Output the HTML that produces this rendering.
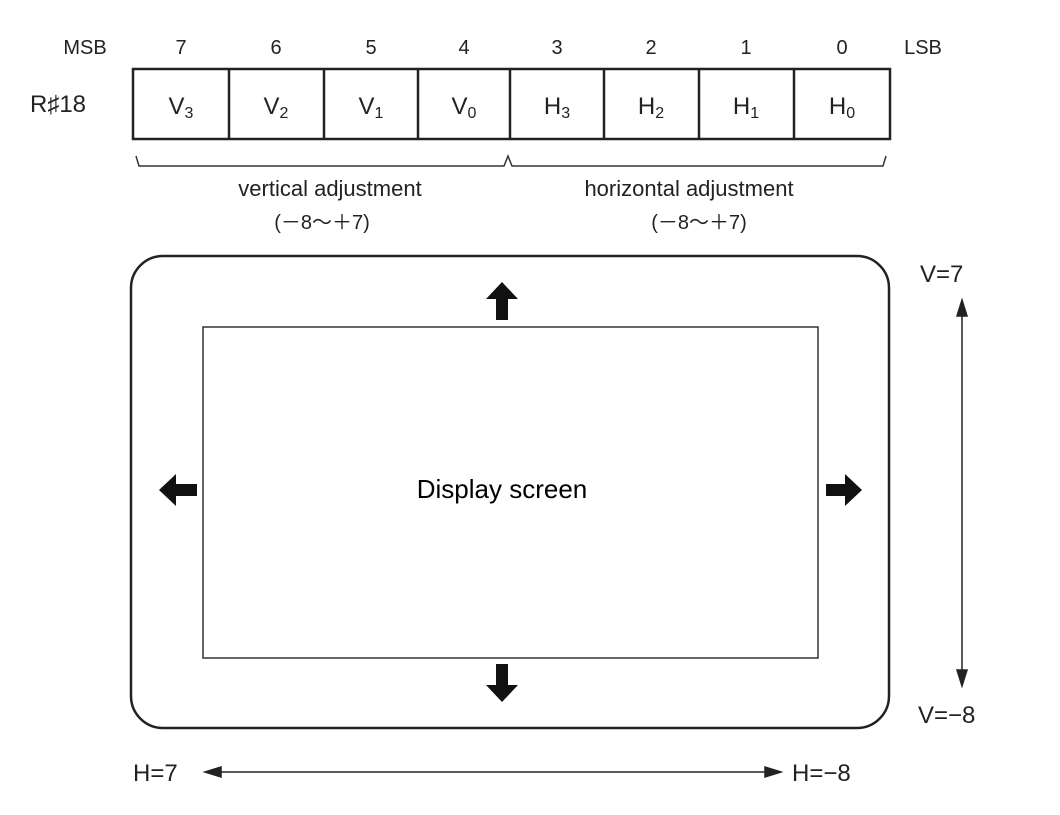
<!DOCTYPE html>
<html><head><meta charset="utf-8"><style>
html,body{margin:0;padding:0;background:#fff;}
svg{display:block;}
text{font-family:"Liberation Sans",sans-serif;fill:#222;}
</style></head><body>
<svg width="1060" height="815" viewBox="0 0 1060 815" xmlns="http://www.w3.org/2000/svg">
<g font-size="20" text-anchor="middle">
<text x="85" y="54">MSB</text>
<text x="181" y="54">7</text>
<text x="276" y="54">6</text>
<text x="371" y="54">5</text>
<text x="464" y="54">4</text>
<text x="557" y="54">3</text>
<text x="651" y="54">2</text>
<text x="746" y="54">1</text>
<text x="842" y="54">0</text>
<text x="923" y="54">LSB</text>
</g>
<text x="30" y="112" font-size="24">R♯18</text>
<rect x="133" y="69" width="757" height="70" fill="none" stroke="#222" stroke-width="2.5"/>
<g stroke="#222" stroke-width="2.5">
<line x1="229" y1="69" x2="229" y2="139"/>
<line x1="324" y1="69" x2="324" y2="139"/>
<line x1="418" y1="69" x2="418" y2="139"/>
<line x1="510" y1="69" x2="510" y2="139"/>
<line x1="604" y1="69" x2="604" y2="139"/>
<line x1="699" y1="69" x2="699" y2="139"/>
<line x1="794" y1="69" x2="794" y2="139"/>
</g>
<g font-size="24" text-anchor="middle">
<text x="181" y="114">V<tspan font-size="16" dy="4">3</tspan></text>
<text x="276" y="114">V<tspan font-size="16" dy="4">2</tspan></text>
<text x="371" y="114">V<tspan font-size="16" dy="4">1</tspan></text>
<text x="464" y="114">V<tspan font-size="16" dy="4">0</tspan></text>
<text x="557" y="114">H<tspan font-size="16" dy="4">3</tspan></text>
<text x="651" y="114">H<tspan font-size="16" dy="4">2</tspan></text>
<text x="746" y="114">H<tspan font-size="16" dy="4">1</tspan></text>
<text x="842" y="114">H<tspan font-size="16" dy="4">0</tspan></text>
</g>
<path d="M136 156 L139 166 L504 166 L508 156 L512 166 L883 166 L886 156" fill="none" stroke="#333" stroke-width="1.5"/>
<g font-size="22" text-anchor="middle">
<text x="330" y="196">vertical adjustment</text>
<text x="689" y="196">horizontal adjustment</text>
</g>
<g font-size="20" text-anchor="middle">
<text x="322" y="229">(－8～＋7)</text>
<text x="699" y="229">(－8～＋7)</text>
</g>
<rect x="131" y="256" width="758" height="472" rx="32" ry="32" fill="none" stroke="#222" stroke-width="2.5"/>
<rect x="203" y="327" width="615" height="331" fill="none" stroke="#333" stroke-width="1.5"/>
<text x="502" y="498" font-size="26" text-anchor="middle" style="fill:#000">Display screen</text>
<g fill="#111">
<polygon points="502,282 518,299 508,299 508,320 496,320 496,299 486,299"/>
<polygon points="502,702 518,685 508,685 508,664 496,664 496,685 486,685"/>
<polygon points="159,490 176,474 176,484 197,484 197,496 176,496 176,506"/>
<polygon points="862,490 845,474 845,484 826,484 826,496 845,496 845,506"/>
</g>
<g font-size="24">
<text x="920" y="282">V=7</text>
<text x="918" y="723">V=−8</text>
<text x="133" y="781">H=7</text>
<text x="792" y="781">H=−8</text>
</g>
<g stroke="#222" stroke-width="1.5" fill="#222">
<line x1="962" y1="305" x2="962" y2="680"/>
<polygon points="962,300 957,316 967,316"/>
<polygon points="962,686 957,670 967,670"/>
<line x1="210" y1="772" x2="776" y2="772"/>
<polygon points="205,772 221,767 221,777"/>
<polygon points="781,772 765,767 765,777"/>
</g>
</svg>
</body></html>
